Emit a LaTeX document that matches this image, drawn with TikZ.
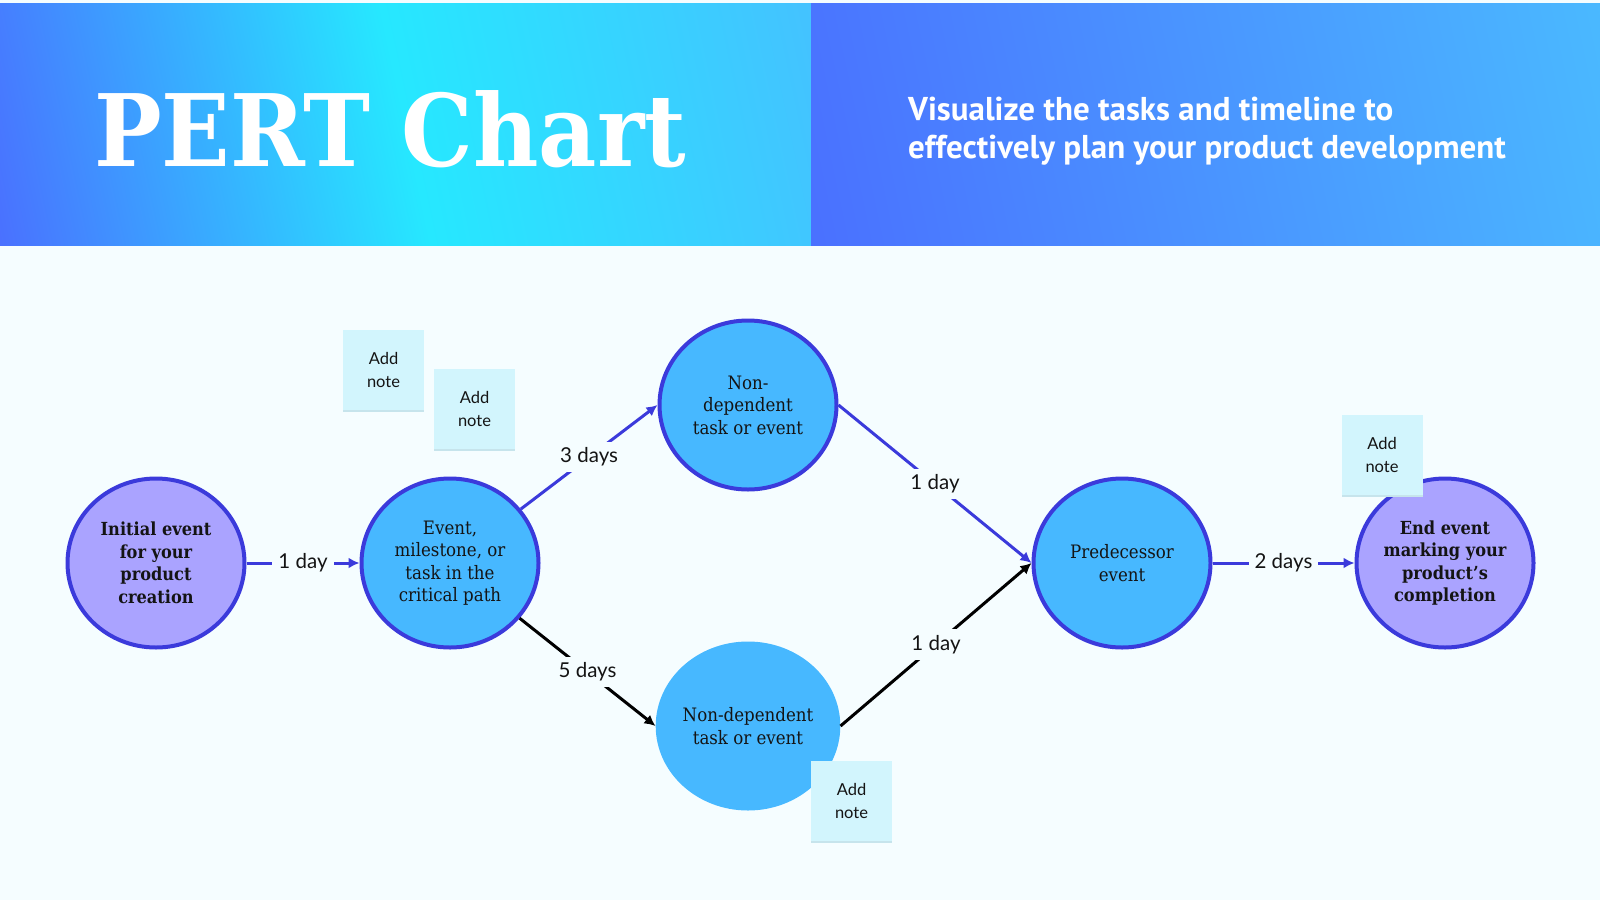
\documentclass[tikz,border=0pt]{standalone}
\usepackage{fontspec}
\setmainfont{DejaVu Serif Condensed}
\newfontfamily\labelfont{Lato}
\newfontfamily\taglinefont{PT Sans}
\usetikzlibrary{shapes.geometric,arrows.meta}

\definecolor{pagebg}{HTML}{F5FDFF}
\definecolor{hdblue}{HTML}{4A70FF}
\definecolor{hdcyan}{HTML}{26E8FF}
\definecolor{hdsky}{HTML}{44C2FF}
\definecolor{hdright}{HTML}{4AB9FF}
\definecolor{ringblue}{HTML}{3B3ADB}
\definecolor{eventblue}{HTML}{47B8FF}
\definecolor{endpurple}{HTML}{AAA3FF}
\definecolor{notefill}{HTML}{D2F5FD}
\definecolor{noteshadow}{HTML}{C6E4EC}
\definecolor{inkblack}{HTML}{141414}

\pgfdeclarehorizontalshading{leftband}{100bp}{color(0bp)=(hdblue); color(20bp)=(hdblue); color(50bp)=(hdcyan); color(80bp)=(hdsky); color(100bp)=(hdsky)}
\pgfdeclarehorizontalshading{rightband}{100bp}{color(0bp)=(hdblue); color(20bp)=(hdblue); color(80bp)=(hdright); color(100bp)=(hdright)}

\tikzset{
  event/.style={ellipse, minimum width=177pt, minimum height=169pt, inner sep=0pt, align=center, text=inkblack, font=\fontsize{18.5}{22.5}\selectfont},
  keyevent/.style={event, fill=endpurple, draw=ringblue, line width=4pt, font=\fontsize{18}{22.5}\selectfont\bfseries},
  pathevent/.style={event, fill=eventblue, draw=ringblue, line width=4pt},
  freeevent/.style={event, fill=eventblue},
  critical/.style={draw=ringblue, line width=3pt, -{Latex[length=11pt,width=11pt]}},
  slack/.style={draw=black, line width=3pt, -{Latex[length=11pt,width=11pt]}},
  duration/.style={fill=pagebg, inner sep=6pt, text=inkblack, font=\labelfont\fontsize{20.5}{20.5}\selectfont},
  notebox/.style={fill=notefill, minimum width=81pt, minimum height=80pt, inner sep=0pt, align=center, text=inkblack, font=\labelfont\fontsize{16.5}{23}\selectfont,
    preaction={fill=noteshadow, transform canvas={yshift=-2pt}}},
}

\begin{document}
\begin{tikzpicture}[x=1pt,y=-1pt]

\useasboundingbox (0,0) rectangle (1600,900);
\fill[pagebg] (0,0) rectangle (1600,900);

% header
\shade[shading=leftband, shading angle=12] (0,3) rectangle (811,245);
\shade[shading=rightband, shading angle=12] (811,3) rectangle (1600,245);
\node[anchor=base west, inner sep=0pt, text=white, font=\fontsize{100}{100}\selectfont\bfseries] (title) at (94,166) {PERT Chart};
\node[anchor=base west, inner sep=0pt, text=white, font=\taglinefont\bfseries\fontsize{33}{33}\selectfont] (tagline1) at (908,120) {Visualize the tasks and timeline to};
\node[anchor=base west, inner sep=0pt, text=white, font=\taglinefont\bfseries\fontsize{33}{33}\selectfont] (tagline2) at (908,158) {effectively plan your product development};

% events
\node[keyevent] (init) at (156,563) {Initial event\\for your\\product\\creation};
\node[pathevent] (crit) at (450,563) {Event,\\milestone, or\\task in the\\critical path};
\node[pathevent] (upper) at (748,405) {Non-\\dependent\\task or event};
\node[freeevent] (lower) at (748,726) {Non-dependent\\task or event};
\node[pathevent] (pred) at (1122,563) {Predecessor\\event};
\node[keyevent] (finish) at (1445,563) {End event\\marking your\\product’s\\completion};

% durations
\draw[critical] (init) -- node[duration] (d1) {1 day} (crit);
\draw[critical] (crit) -- node[duration] (d2) {3 days} (upper.west);
\draw[slack] (crit) -- node[duration] (d3) {5 days} (lower.west);
\draw[critical] (upper.east) -- node[duration] (d4) {1 day} (pred.west);
\draw[slack] (lower.east) -- node[duration] (d5) {1 day} (pred.west);
\draw[critical] (pred) -- node[duration] (d6) {2 days} (finish);

% notes
\node[notebox] (noteA) at (383.5,370) {Add\\note};
\node[notebox] (noteB) at (474.5,408.5) {Add\\note};
\node[notebox] (noteC) at (1382,454.5) {Add\\note};
\node[notebox] (noteD) at (851.5,800.5) {Add\\note};

\end{tikzpicture}
\end{document}
